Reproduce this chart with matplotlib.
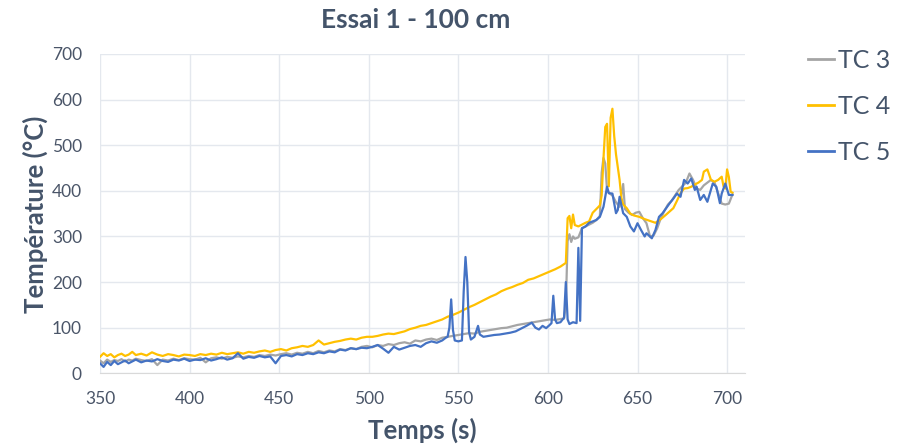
"""Essai 1 - 100 cm: thermocouple temperatures vs time."""

import matplotlib

matplotlib.use("Agg")
import matplotlib.pyplot as plt
from matplotlib.lines import Line2D

plt.rcParams["font.family"] = ["Lato", "DejaVu Sans"]

TEXT = "#44546A"

# TC 3 (grey)
tc3_time = [
    350, 352, 354, 356, 358, 360, 362, 364, 366, 368, 370, 373, 376, 379, 382, 385, 388, 391, 394, 397,
    400, 403, 406, 409, 412, 415, 418, 421, 424, 427, 430, 433, 436, 439, 442, 445, 448, 451, 454, 457,
    460, 463, 466, 469, 472, 475, 478, 481, 484, 487, 490, 493, 496, 499, 502, 505, 508, 511, 514, 517,
    520, 523, 526, 529, 532, 535, 538, 541, 544, 547, 550, 553, 556, 559, 562, 565, 568, 571, 574, 577,
    580, 583, 586, 589, 592, 595, 598, 601, 604, 607, 609, 610, 611, 612, 613, 614, 615, 617, 619, 621,
    623, 625, 627, 629, 630, 631, 632, 633, 634, 636, 638, 640, 641, 642, 643, 645, 647, 649, 651, 653,
    655, 657, 659, 661, 663, 665, 667, 669, 671, 673, 675, 677, 679, 681, 683, 685, 687, 689, 691, 693,
    695, 697, 699, 701, 703,
]
tc3_temp = [
    28, 22, 30, 25, 29, 27, 31, 26, 30, 28, 32, 29, 27, 31, 18, 30, 28, 32, 29, 33,
    31, 30, 34, 24, 33, 35, 32, 36, 34, 37, 35, 38, 36, 40, 38, 41, 39, 42, 44, 41,
    45, 43, 47, 44, 49, 46, 50, 48, 53, 51, 55, 53, 58, 60, 57, 62, 60, 64, 62, 66,
    68, 65, 72, 70, 74, 76, 73, 78, 80, 82, 84, 86, 88, 87, 91, 93, 95, 97, 99, 100,
    103, 106, 108, 110, 112, 114, 116, 118, 117, 119, 120, 150, 290, 305, 288, 300, 295, 298, 318, 322,
    326, 330, 336, 345, 440, 472, 460, 402, 395, 390, 375, 365, 392, 415, 360, 352, 347, 352, 354, 340,
    329, 300, 302, 318, 340, 356, 370, 378, 390, 402, 410, 418, 438, 424, 405, 402, 412, 418, 424, 418,
    395, 372, 370, 372, 392,
]

# TC 4 (yellow)
tc4_time = [
    350, 352, 354, 356, 358, 360, 362, 364, 366, 368, 370, 373, 376, 379, 382, 385, 388, 391, 394, 397,
    400, 403, 406, 409, 412, 415, 418, 421, 424, 427, 430, 433, 436, 439, 442, 445, 448, 451, 454, 457,
    460, 463, 466, 469, 472, 475, 478, 481, 484, 487, 490, 493, 496, 499, 502, 505, 508, 511, 514, 517,
    520, 523, 526, 529, 532, 535, 538, 541, 544, 547, 550, 553, 556, 559, 562, 565, 568, 571, 574, 577,
    580, 583, 586, 589, 592, 595, 598, 601, 604, 607, 610, 611, 612, 613, 614, 615, 617, 619, 621, 623,
    625, 627, 629, 630, 631, 632, 633, 634, 635, 636, 637, 638, 640, 641, 642, 644, 646, 648, 651, 654,
    657, 660, 663, 666, 668, 670, 672, 674, 676, 678, 680, 682, 684, 686, 687, 689, 691, 693, 695, 697,
    698, 699, 700, 701, 702, 703,
]
tc4_temp = [
    36, 44, 38, 42, 35, 40, 43, 38, 41, 47, 40, 43, 39, 46, 41, 38, 42, 40, 37, 41,
    40, 38, 42, 40, 43, 41, 45, 42, 44, 46, 43, 47, 45, 48, 50, 47, 51, 53, 50, 55,
    57, 60, 58, 62, 72, 63, 66, 69, 71, 74, 76, 74, 78, 80, 80, 82, 85, 87, 86, 89,
    92, 97, 100, 104, 106, 110, 114, 118, 124, 128, 133, 139, 145, 150, 156, 162, 168, 173, 180, 185,
    189, 194, 198, 205, 208, 213, 218, 223, 228, 234, 242, 340, 345, 318, 348, 325, 322, 326, 330, 333,
    352, 360, 368, 390, 470, 540, 547, 410, 560, 580, 520, 480, 424, 385, 370, 362, 350, 346, 343, 338,
    334, 330, 338, 348, 355, 362, 378, 395, 405, 406, 409, 414, 418, 424, 442, 447, 424, 420, 424, 431,
    410, 405, 447, 430, 398, 396,
]

# TC 5 (blue)
tc5_time = [
    350, 352, 354, 356, 358, 360, 362, 364, 366, 368, 370, 373, 376, 379, 382, 385, 388, 391, 394, 397,
    400, 403, 406, 409, 412, 415, 418, 421, 424, 427, 430, 433, 436, 439, 442, 445, 448, 451, 454, 457,
    460, 463, 466, 469, 472, 475, 478, 481, 484, 487, 490, 493, 496, 499, 502, 505, 508, 511, 514, 517,
    520, 523, 526, 529, 532, 535, 538, 541, 543, 544, 545, 546, 547, 548, 550, 552, 553, 554, 555, 556,
    557, 559, 561, 562, 564, 567, 570, 573, 576, 579, 582, 585, 588, 591, 593, 595, 597, 599, 601, 602,
    603, 604, 605, 607, 609, 610, 611, 612, 614, 616, 617, 618, 619, 621, 623, 625, 627, 629, 631, 633,
    634, 636, 638, 639, 640, 642, 644, 646, 648, 650, 652, 654, 655, 658, 660, 662, 664, 666, 668, 670,
    672, 674, 676, 678, 680, 682, 683, 685, 687, 689, 692, 694, 696, 697, 699, 701, 703,
]
tc5_temp = [
    22, 14, 25, 18, 27, 20, 24, 28, 22, 26, 30, 24, 28, 26, 31, 27, 25, 30, 28, 32,
    27, 30, 29, 33, 28, 31, 35, 30, 33, 44, 32, 36, 34, 38, 35, 37, 22, 38, 40, 37,
    42, 40, 44, 42, 46, 44, 48, 46, 52, 50, 55, 53, 56, 55, 58, 62, 54, 45, 58, 52,
    56, 60, 62, 58, 66, 70, 67, 72, 78, 80, 100, 162, 95, 72, 70, 72, 180, 255, 200, 90,
    74, 80, 104, 85, 80, 82, 84, 85, 87, 89, 92, 98, 104, 111, 100, 96, 104, 99, 106, 110,
    170, 118, 110, 112, 122, 200, 118, 108, 112, 110, 275, 115, 318, 322, 330, 333, 336, 343, 365, 409,
    395, 394, 351, 358, 387, 351, 343, 322, 311, 329, 314, 300, 307, 296, 314, 343, 351, 362, 373, 383,
    394, 387, 424, 416, 427, 402, 409, 380, 391, 376, 416, 409, 373, 394, 416, 391, 391,
]

series = [
    ("TC 3", tc3_time, tc3_temp, "#A5A5A5"),
    ("TC 4", tc4_time, tc4_temp, "#FFC000"),
    ("TC 5", tc5_time, tc5_temp, "#4472C4"),
]

fig = plt.figure(figsize=(8.97, 4.44), dpi=100)
ax = fig.add_axes([100 / 897, 70.7 / 444, 645 / 897, 319.3 / 444])

for label, times, temps, color in series:
    ax.plot(times, temps, color=color, linewidth=1.6, label=label)

ax.set_xlim(350, 710)
ax.set_ylim(0, 700)
ax.set_xticks(range(350, 701, 50))
ax.set_yticks(range(0, 701, 100))
ax.grid(color="#E4E8EE", linewidth=1.0)
ax.set_axisbelow(True)
for side in ("top", "right", "left"):
    ax.spines[side].set_visible(False)
ax.spines["bottom"].set_color("#D9D9D9")
ax.tick_params(length=0, labelsize=12.5, labelcolor="#4A5568")
ax.tick_params(axis="x", pad=13)
ax.tick_params(axis="y", pad=13)

fig.text(416 / 897, 1 - 20 / 444, "Essai 1 - 100 cm", ha="center", va="center",
         fontsize=19, fontweight="bold", color=TEXT)
fig.text(422 / 897, 1 - 430 / 444, "Temps (s)", ha="center", va="center",
         fontsize=18.5, fontweight="bold", color=TEXT)
fig.text(35 / 897, 1 - 214 / 444, "Température (°C)", ha="center", va="center",
         rotation=90, fontsize=18.5, fontweight="bold", color=TEXT)

handles = [Line2D([], [], color=c, linewidth=2) for _, _, _, c in series]
fig.legend(handles, [s[0] for s in series], loc="upper left", bbox_to_anchor=(808 / 897, 1 - 49 / 444),
           frameon=False, fontsize=18, handlelength=1.05, handletextpad=0.15, labelspacing=0.92,
           labelcolor=TEXT, borderpad=0, borderaxespad=0)

fig.savefig("out.png", dpi=100)
